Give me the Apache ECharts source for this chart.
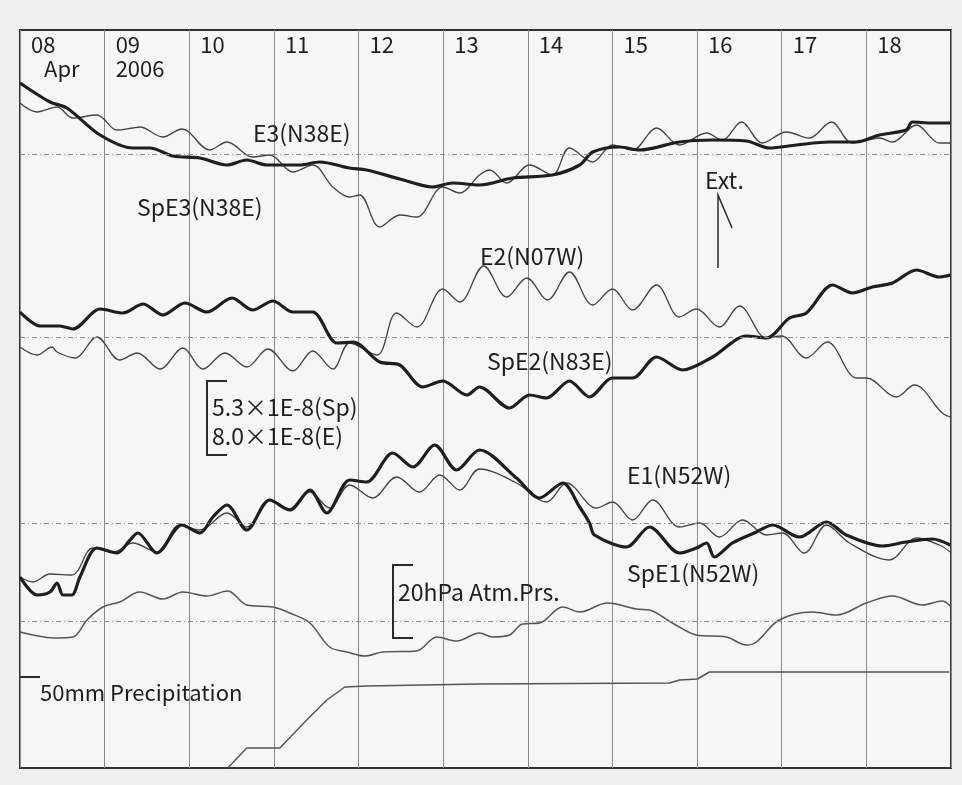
<!DOCTYPE html>
<html>
<head>
<meta charset="utf-8">
<script src="https://cdn.jsdelivr.net/npm/echarts@6/dist/echarts.min.js"></script>
<style>
html,body{margin:0;padding:0;background:#efefef;}
#c{width:962px;height:785px;}
</style>
</head>
<body>
<div id="c"></div>
<script>
// Time in hours from 08 Apr 2006 00:00; values in chart trace units (arbitrary offset scale)
const dayLabels = ['08','09','10','11','12','13','14','15','16','17','18'];
const subLabels = ['Apr','2006'];

const spe3H = [0,8.5,13.3,22.7,32,36.8,43.4,51,58.7,64.3,70,79.3,85,93.5,98.3,107.7,117,122.7,130.3,139.7,151,158.7,162.4,170,175.7,187,196.4,206,212.5,220.2,229.5,237.2,243.7,251.3,253,258.7,263.8];
const spe3V = [685,666,660,633,620,620,612,610,603,608,603,603,606,600,598,589,581,585,583,590,593,603,616,621,618,626,628,627,620,623,626,626,633,638,646,645,645];

const e3H = [0,4.8,10.5,15,21.8,27.5,32,34,40.5,45.9,53.8,58.7,66,70.8,77.4,83,88.7,93.5,96.3,102,107.7,112.5,119.9,124.7,130.3,133.2,138,144.5,151,155.8,162.4,168,173.7,180.5,187,194.7,199.2,204.6,210.5,217.3,223.8,230.1,236,243.7,247.4,254.2,260.7,263.8];
const e3V = [665,656,661,650,653,638,640,641,631,639,618,626,611,613,596,603,581,571,573,541,553,551,581,575,593,598,585,603,593,620,606,623,618,640,623,635,628,646,625,636,630,646,625,630,626,643,625,625];

const spe2H = [0,5.7,11.3,15,22.7,29.2,34.9,40.5,46.8,53,60.1,66,71.7,77.4,83,89.8,94.4,102,107.7,114.2,119.9,126.7,130.3,138.8,144.5,149.3,155.8,161.5,168,173.7,180.5,187.9,196.4,206,211.7,218.2,223,230.4,236,241.7,247.4,254.2,260.7,263.8];
const spe2V = [456,442,442,439,459,455,464,453,465,456,470,458,467,456,456,425,426,406,403,381,387,373,381,360,373,370,387,371,390,390,411,398,411,432,430,450,455,483,475,481,485,498,491,493];

const e2H = [0,4.8,9.1,10.5,15.6,21.8,28.3,33.2,39.7,46.2,51.9,58.1,64.3,70.3,77.4,83,88.7,93.5,101.2,106.8,112.5,119.9,124.7,131.5,138,143.7,149.6,155.8,162.4,168,173.7,180.5,187,191.8,198.3,204,211.7,215.9,223,228.9,237.2,240,248.5,253.6,261.5,263.8];
const e2V = [421,413,421,416,410,431,408,415,399,420,399,415,401,419,397,417,399,425,413,455,441,479,466,502,471,490,468,496,463,479,458,483,451,459,441,462,430,432,410,426,390,390,371,383,355,351];

const spe1H = [0,4.8,8.5,10.5,12.2,14.7,17,21.8,27.5,31.2,33.4,38.8,45.9,51,54.7,58.7,64.3,70.8,76.5,82.2,87,93.5,98.3,105.7,111.4,117.6,123.8,130.3,140.8,147.3,153.9,158.7,161.5,162.9,172,178.5,187,191.8,194.7,196.9,202,208.8,213.4,221,228.7,234.3,244.5,251.3,258.7,263.8];
const spe1V = [191,173,176,185,173,173,191,220,215,228,235,215,243,235,251,263,238,268,258,278,255,288,286,315,301,323,298,318,290,270,285,261,245,233,221,241,215,220,225,211,225,236,243,231,246,233,222,226,229,223];

const e1H = [0,3.7,8.5,14.7,20.7,26.4,32,38.8,45.3,51,58.7,64.3,70.8,76.5,82.2,87.8,93.5,100,106.8,113.3,119,124.7,130.3,140.8,149.3,155,163.5,168,173.7,179.4,187,192.7,198.3,204.9,211.7,216.2,222.4,228.7,235.2,246.5,254.2,260.7,263.8];
const e1V = [191,186,194,193,220,216,225,216,243,238,255,241,268,259,276,260,283,270,291,276,293,278,299,285,266,285,260,266,248,268,241,245,231,248,233,235,215,243,225,208,230,223,216];

const atmH = [0,3.7,9.4,15,19,23.5,28.3,34,40.5,46.2,53,58.9,64.3,71.7,76.5,82.2,87.8,92.7,97.8,102.9,112.5,118.2,123.8,130.3,134,138.8,142.5,147.3,153.9,158.7,166.6,174.8,178.5,185,191.8,200.3,206,208.8,215.3,224.7,231.5,240,247.4,255.9,261.5,263.8];
const atmV = [136,133,130,131,148,161,166,176,169,176,172,177,163,161,155,145,121,116,112,116,117,131,127,135,131,133,144,145,161,156,165,159,158,145,133,131,123,126,148,156,153,165,172,163,167,162];

const precH = [58.9,64.3,73.7,81.3,87,92.1,98.3,130.3,184.2,187,192.1,195.5,263.5];
const precV = [0,20,20,48,68,81,82,84,85,88,89,96,96];

const refLevels = [614,431,245,147];

const pairs = (h,v) => h.map((x,i)=>[x,v[i]]);
const FONT = '"Noto Sans CJK JP", "Liberation Sans", sans-serif';
const chart = echarts.init(document.getElementById('c'), null, {renderer:'canvas'});

const thin = (name,h,v,extra) => Object.assign({
  name, type:'line', data:pairs(h,v), showSymbol:false, smooth:0.35,
  lineStyle:{color:'#444', width:1.3}, z:3, silent:true
}, extra||{});
const thick = (name,h,v) => ({
  name, type:'line', data:pairs(h,v), showSymbol:false, smooth:0.3,
  lineStyle:{color:'#1e1e1e', width:3.2}, z:4, silent:true
});

const label = (text,x,cy,size) => ({
  type:'text', x:x, y:cy, z:10,
  style:{text, fontSize:size||23, fontFamily:FONT, fill:'#1e1e1e', verticalAlign:'middle', align:'left'}
});
const poly = (pts,w) => ({
  type:'polyline', z:10, shape:{points:pts},
  style:{stroke:'#2a2a2a', lineWidth:w||2, fill:null}
});

chart.setOption({
  backgroundColor:'#efefef',
  animation:false,
  grid:{left:20, top:30, width:931, height:738, show:true, backgroundColor:'#f6f6f6',
        borderColor:'#333', borderWidth:2},
  xAxis:{
    type:'value', min:0, max:264, interval:24, position:'top',
    axisLine:{show:false}, axisTick:{show:false},
    splitLine:{show:true, lineStyle:{color:'#8a8a8a', width:1}},
    axisLabel:{
      inside:true, margin:3, align:'left', verticalAlign:'top', showMaxLabel:false,
      padding:[0,0,0,11], color:'#1e1e1e', fontFamily:FONT, fontSize:22, lineHeight:24,
      formatter:(v)=>{
        const i = Math.round(v/24);
        if (i >= dayLabels.length) return '';
        if (i < subLabels.length) {
          return '{d|'+dayLabels[i]+'}\n{'+(i===0?'s':'y')+'|'+subLabels[i]+'}';
        }
        return '{d|'+dayLabels[i]+'}';
      },
      rich:{
        d:{fontSize:22, fontFamily:FONT, color:'#1e1e1e', lineHeight:24},
        s:{fontSize:22, fontFamily:FONT, color:'#1e1e1e', lineHeight:24, padding:[0,0,0,13]},
        y:{fontSize:22, fontFamily:FONT, color:'#1e1e1e', lineHeight:24}
      }
    }
  },
  yAxis:{type:'value', min:0, max:738, show:false, splitLine:{show:false}},
  series:[
    Object.assign(thin('E3(N38E)',e3H,e3V), {
      markLine:{silent:true, symbol:['none','none'], label:{show:false},
        lineStyle:{color:'#8c8c8c', width:1, type:[5,3,1,3]},
        data:refLevels.map(v=>({yAxis:v}))}
    }),
    thick('SpE3(N38E)',spe3H,spe3V),
    thin('E2(N07W)',e2H,e2V),
    thick('SpE2(N83E)',spe2H,spe2V),
    thin('E1(N52W)',e1H,e1V),
    thick('SpE1(N52W)',spe1H,spe1V),
    thin('Atm.Prs.',atmH,atmV,{lineStyle:{color:'#555',width:1.5}}),
    thin('Precipitation',precH,precV,{smooth:false, lineStyle:{color:'#555',width:1.5}})
  ],
  graphic:[
    label('E3(N38E)',253,133),
    label('SpE3(N38E)',137,207),
    label('Ext.',705,180),
    label('E2(N07W)',480,256),
    label('SpE2(N83E)',487,361),
    label('5.3×1E-8(Sp)',212,407),
    label('8.0×1E-8(E)',212,436),
    label('E1(N52W)',627,475),
    label('SpE1(N52W)',627,573),
    label('20hPa Atm.Prs.',398,592),
    label('50mm Precipitation',40,693,22),
    poly([[227,381],[207,381],[207,455],[227,455]],2),
    poly([[413,565],[393,565],[393,638],[413,638]],2),
    poly([[20,677],[40,677]],2),
    poly([[718,268],[718,195],[732,228]],1.5)
  ]
});
</script>
</body>
</html>
